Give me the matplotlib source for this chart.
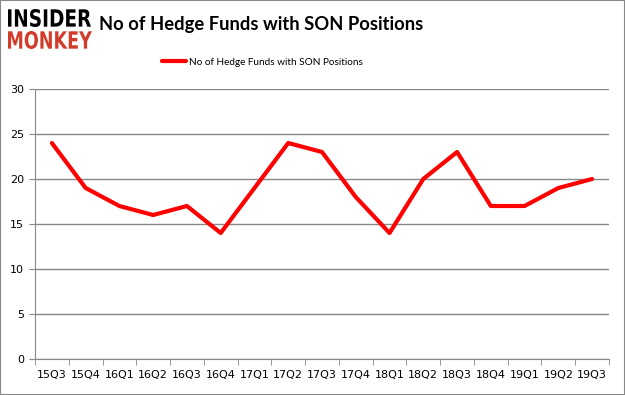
import numpy as np
import matplotlib.pyplot as plt
from matplotlib.patches import Rectangle, PathPatch
from matplotlib.textpath import TextPath
from matplotlib.font_manager import FontProperties
from matplotlib.transforms import Affine2D, IdentityTransform

quarters = ['15Q3', '15Q4', '16Q1', '16Q2', '16Q3', '16Q4', '17Q1', '17Q2', '17Q3',
            '17Q4', '18Q1', '18Q2', '18Q3', '18Q4', '19Q1', '19Q2', '19Q3']
funds = [24, 19, 17, 16, 17, 14, 19, 24, 23, 18, 14, 20, 23, 17, 17, 19, 20]
series_name = 'No of Hedge Funds with SON Positions'

W, H = 625, 395
fig = plt.figure(figsize=(W / 100, H / 100), dpi=100)
ax = fig.add_axes((0.056, 0.0911, 0.9184, 0.6836))

x = np.arange(len(quarters))
ax.plot(x, funds, color='#ff0000', lw=3, label=series_name, solid_capstyle='round')

ax.set_xlim(-0.5, len(quarters) - 0.5)
ax.set_ylim(0, 30)
ax.set_yticks(range(0, 31, 5))
ax.set_xticks(x)
ax.set_xticklabels(quarters)
ax.set_xticks(np.arange(-0.5, len(quarters), 1), minor=True)
ax.tick_params(axis='x', which='major', length=0, pad=8, labelsize=8)
ax.tick_params(axis='x', which='minor', length=4, color='#888888')
ax.tick_params(axis='y', length=4, color='#888888', labelsize=8, pad=4)
ax.yaxis.grid(True, color='#888888', lw=1)
ax.set_axisbelow(True)
for s in ['top', 'right']:
    ax.spines[s].set_visible(False)
for s in ['left', 'bottom']:
    ax.spines[s].set_color('#888888')

fig.legend(loc='center', bbox_to_anchor=(262 / W, 0.843), frameon=False,
           prop={'family': 'Lato', 'size': 7.2}, handlelength=2.4, handletextpad=0.3)

fig.text(261 / W, 0.937, series_name, ha='center', va='center', fontsize=13.2,
         fontweight='bold', family='Lato')


def logo_word(word, color, x0, y_top, w, h):
    # stretched text drawn in pixel space
    tp = TextPath((0, 0), word, size=1, prop=FontProperties(family='DejaVu Sans', weight='bold'))
    ext = tp.get_extents()
    tr = (Affine2D().translate(-ext.x0, -ext.y0)
          .scale(w / ext.width, h / ext.height)
          .translate(x0, H - y_top - h))
    fig.patches.append(PathPatch(tr.transform_path(tp), transform=IdentityTransform(),
                                 fc=color, ec='none'))


logo_word('INSIDER', 'black', 8, 9, 83, 18)
logo_word('MONKEY', '#d23c2a', 8, 31, 84, 18)

fig.patches.append(Rectangle((0, 0), 1, 1, transform=fig.transFigure, fill=False,
                             ec='#888888', lw=1.5))

fig.savefig('out.png', dpi=100)
